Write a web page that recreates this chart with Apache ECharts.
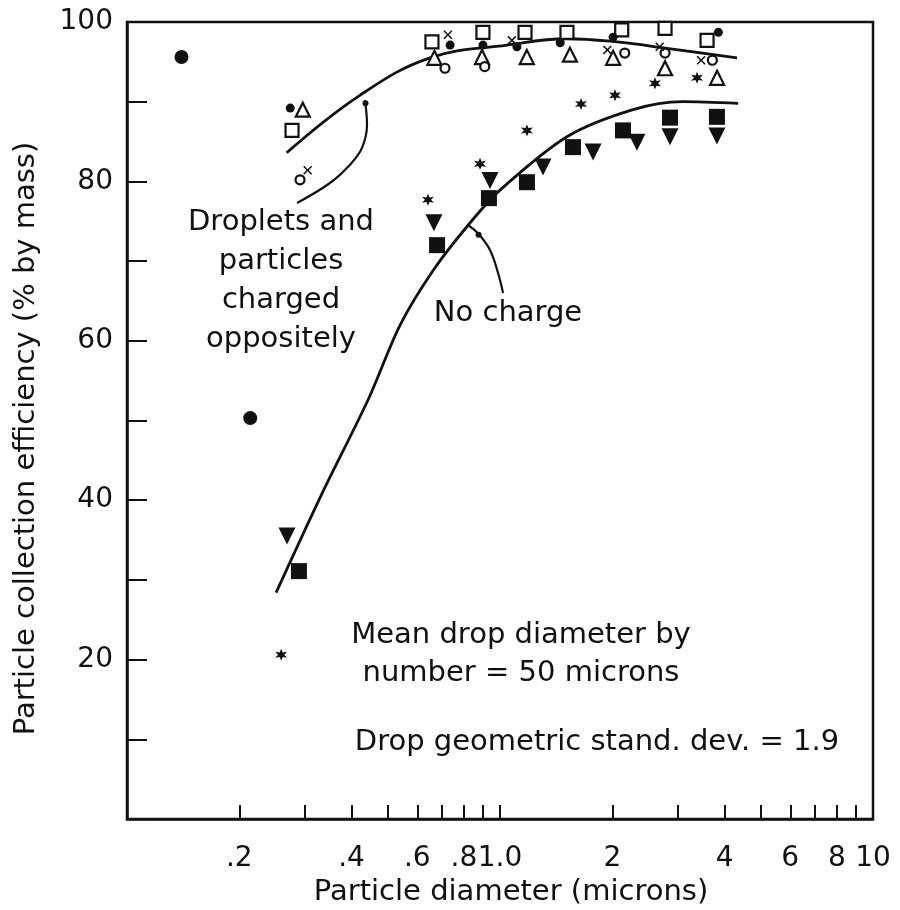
<!DOCTYPE html>
<html><head><meta charset="utf-8">
<script src="https://cdn.jsdelivr.net/npm/echarts@6/dist/echarts.min.js"></script>
<style>html,body{margin:0;padding:0;background:#fff}#c{width:900px;height:910px}</style>
</head><body><div id="c"></div>
<script>
// ---- axis ticks / labels ----
const xTickValues = [0.2,0.3,0.4,0.5,0.6,0.7,0.8,0.9,1,2,3,4,5,6,7,8,9];
const xLabelValues = [0.2,0.4,0.6,0.8,1,2,4,6,8,10];
const xLabelText = ['.2','.4','.6','.8','1.0','2','4','6','8','10'];
const yLabelValues = [20,40,60,80,100];

// ---- data: [particle diameter (microns), efficiency %] ----
const bigDots = [[0.140,95.6],[0.214,50.3]];
// No charge
const noChargeSquares = [[0.289,31.1],[0.678,72.0],[0.934,77.9],[1.181,79.9],[1.569,84.3],[2.137,86.4],[2.856,88.0],[3.816,88.1]];
const noChargeTriangles = [[0.2685,35.5],[0.665,74.8],[0.940,80.1],[1.304,81.8],[1.776,83.7],[2.329,84.9],[2.856,85.6],[3.816,85.7]];
const noChargeStars = [[0.259,20.6],[0.641,77.7],[0.884,82.2],[1.181,86.4],[1.649,89.7],[2.034,90.8],[2.603,92.3],[3.375,93.0]];
// Droplets and particles charged oppositely
const chargedSquares = [[0.277,86.4],[0.657,97.5],[0.900,98.7],[1.167,98.7],[1.512,98.7],[2.12,99.0],[2.77,99.2],[3.59,97.7]];
const chargedTriangles = [[0.296,89.0],[0.667,95.5],[0.895,95.6],[1.18,95.6],[1.54,95.9],[2.01,95.5],[2.77,94.2],[3.82,93.0]];
const chargedCircles = [[0.291,80.2],[0.712,94.2],[0.91,94.4],[2.16,96.1],[2.77,96.1],[3.71,95.2]];
const chargedCrosses = [[0.305,81.4],[0.725,98.4],[1.076,97.7],[1.94,96.5],[2.68,96.9],[3.46,95.2]];
const chargedDots = [[0.274,89.2],[0.735,97.1],[0.90,97.1],[1.11,96.9],[1.45,97.4],[2.01,98.1],[3.85,98.7]];
// fitted curves
const curveCharged = [[0.268,83.6],[0.421,90.8],[0.649,95.5],[1.044,97.1],[1.512,97.9],[2.06,97.5],[2.80,96.7],[4.32,95.5]];
const curveNoCharge = [[0.251,28.4],[0.333,40.8],[0.443,52.6],[0.54,62.0],[0.661,68.8],[0.821,74.5],[1.0,78.9],[1.512,85.6],[2.274,89.0],[3.09,90.0],[4.35,89.8]];
// annotation leader lines
const leaderCharged = [[0.4345,90.2],[0.440,87.1],[0.4266,84.2],[0.396,82.1],[0.350,79.8],[0.2857,77.3]];
const leaderNoCharge = [[0.821,74.5],[0.873,73.5],[0.940,71.4],[0.988,68.5],[1.019,66.0]];
const leaderTips = [[0.436,89.8],[0.876,73.3]];

const INK = '#111';
const FONT = 'DejaVu Sans';
const FS = 29;

const chart = echarts.init(document.getElementById('c'), null, {renderer:'canvas'});

function scatter(data, symbol, size, filled, extra) {
  return Object.assign({
    type:'scatter', data, symbol, symbolSize:size, z:5,
    itemStyle: filled ? {color:INK, borderWidth:0, opacity:1} : {color:'#fff', borderColor:INK, borderWidth:2.2, opacity:1}
  }, extra||{});
}
function line(data, width, smooth) {
  return {type:'line', data, smooth:smooth, showSymbol:false, symbol:'none', z:4,
    lineStyle:{color:INK, width}, silent:true};
}
const starPath = 'path://M5,0 L6.1,3.1 L9.3,2.5 L7.2,5 L9.3,7.5 L6.1,6.9 L5,10 L3.9,6.9 L0.7,7.5 L2.8,5 L0.7,2.5 L3.9,3.1 Z';
const crossPath = 'path://M0,1.2 L1.2,0 L5,3.8 L8.8,0 L10,1.2 L6.2,5 L10,8.8 L8.8,10 L5,6.2 L1.2,10 L0,8.8 L3.8,5 Z';

function xLabel(v){
  for (let i=0;i<xLabelValues.length;i++) if (Math.abs(v-xLabelValues[i])/xLabelValues[i] < 1e-6) return xLabelText[i];
  return '';
}
function txt(s, x, y){
  return {type:'text', x, y, style:{text:s, fill:INK, font:`${FS}px "${FONT}"`, textAlign:'center', textVerticalAlign:'middle'}};
}

chart.setOption({
  animation:false,
  backgroundColor:'#fff',
  grid:{left:127, right:27, top:22, bottom:91, outerBoundsMode:'none', containLabel:false,
        show:true, borderColor:INK, borderWidth:2.5, backgroundColor:'transparent'},
  xAxis:{
    type:'log', logBase:10, min:0.1, max:10,
    name:'Particle diameter (microns)', nameLocation:'middle', nameGap:55,
    nameTextStyle:{fontFamily:FONT, fontSize:FS, color:INK, padding:[0,0,0,22]},
    axisLine:{show:true, lineStyle:{color:INK, width:2.5}},
    axisTick:{show:true, inside:true, length:14, customValues:xTickValues, lineStyle:{color:INK, width:2}},
    axisLabel:{show:true, customValues:xLabelValues, formatter:xLabel, margin:26, fontFamily:FONT, fontSize:28, color:INK},
    splitLine:{show:false}, minorTick:{show:false}
  },
  yAxis:{
    type:'value', min:0, max:100, interval:10,
    name:'Particle collection efficiency (% by mass)', nameLocation:'middle', nameGap:86, nameRotate:90,
    nameTextStyle:{fontFamily:FONT, fontSize:FS, color:INK, padding:[0,36,0,0]},
    axisLine:{show:true, lineStyle:{color:INK, width:2.5}},
    axisTick:{show:true, inside:true, length:20, lineStyle:{color:INK, width:2}},
    axisLabel:{show:true, margin:14, fontFamily:FONT, fontSize:28, color:INK,
      formatter:v => yLabelValues.indexOf(v) >= 0 ? String(v) : ''},
    splitLine:{show:false}
  },
  series:[
    line(curveCharged, 2.8, 0.4),
    line(curveNoCharge, 2.8, 0.3),
    line(leaderCharged, 2.2, 0.4),
    line(leaderNoCharge, 2.2, 0.4),
    scatter(leaderTips, 'circle', 6, true),
    scatter(bigDots, 'circle', 14, true),
    scatter(noChargeSquares, 'rect', 16, true),
    scatter(noChargeTriangles, 'triangle', 17, true, {symbolRotate:180}),
    scatter(noChargeStars, starPath, 12, true),
    scatter(chargedSquares, 'rect', 13, false),
    scatter(chargedTriangles, 'triangle', 14, false),
    scatter(chargedCircles, 'circle', 9, false),
    scatter(chargedCrosses, crossPath, 9, true),
    scatter(chargedDots, 'circle', 9, true)
  ],
  graphic:[
    {type:'group', children:[
      txt('Droplets and', 281, 222),
      txt('particles', 281, 261),
      txt('charged', 281, 300),
      txt('oppositely', 281, 339),
      txt('No charge', 508, 313),
      txt('Mean drop diameter by', 521, 635),
      txt('number = 50 microns', 521, 673),
      txt('Drop geometric stand. dev. = 1.9', 597, 742)
    ]}
  ]
});
</script></body></html>
